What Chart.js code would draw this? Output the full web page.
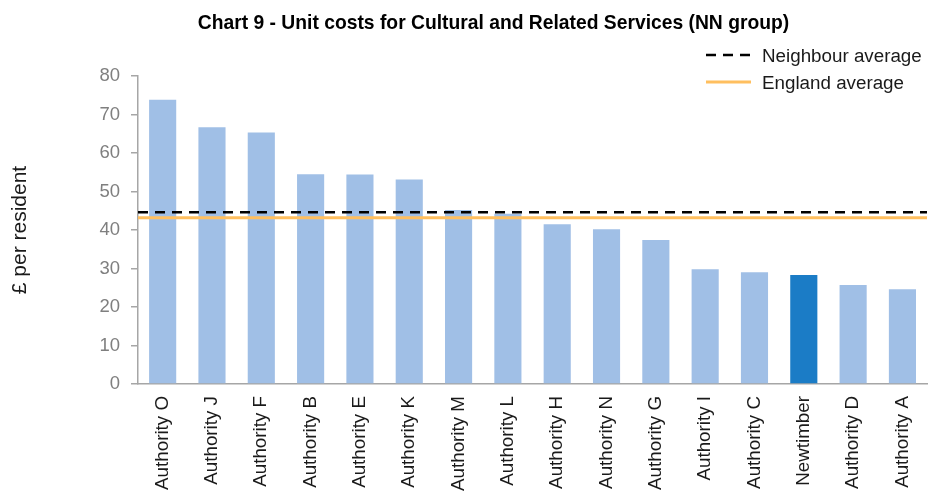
<!DOCTYPE html>
<html>
<head>
<meta charset="utf-8">
<script src="https://cdn.jsdelivr.net/npm/chart.js@4.4.1/dist/chart.umd.min.js"></script>
<style>
  html, body { margin: 0; padding: 0; background: #ffffff; overflow: hidden; }
  #wrap { width: 937px; height: 493px; position: relative; }
</style>
</head>
<body>
<div id="wrap"><canvas id="c" width="937" height="493"></canvas></div>
<script>
const chartTitle = "Chart 9 - Unit costs for Cultural and Related Services (NN group)";
const yAxisTitle = "£ per resident";
const categories = ["Authority O", "Authority J", "Authority F", "Authority B", "Authority E", "Authority K", "Authority M", "Authority L", "Authority H", "Authority N", "Authority G", "Authority I", "Authority C", "Newtimber", "Authority D", "Authority A"];
const unitCosts = [73.8, 66.7, 65.3, 54.5, 54.4, 53.1, 45.2, 44.2, 41.5, 40.2, 37.4, 29.8, 29.0, 28.3, 25.7, 24.6];
const highlightCategory = "Newtimber";
const neighbourAverage = 44.6;
const englandAverage = 43.2;
const yTicks = [0, 10, 20, 30, 40, 50, 60, 70, 80];
const legendLabels = ["Neighbour average", "England average"];

const barLight = "#A0BFE6";
const barDark = "#1B7CC6";
const orange = "#FFBF5F";

const barColors = categories.map(c => c === highlightCategory ? barDark : barLight);

const overlayPlugin = {
  id: "overlay",
  afterDraw(chart) {
    const ctx = chart.ctx;
    ctx.save();
    ctx.fillStyle = "#000000";
    ctx.font = "bold 19.3px 'Liberation Sans', Arial, sans-serif";
    ctx.textAlign = "center";
    ctx.textBaseline = "alphabetic";
    ctx.fillText(chartTitle, 493.5, 29);
    ctx.font = "18.8px 'Liberation Sans', Arial, sans-serif";
    ctx.textAlign = "left";
    ctx.fillStyle = "#1a1a1a";
    ctx.strokeStyle = "#000000";
    ctx.lineWidth = 2.5;
    ctx.setLineDash([10, 7]);
    ctx.beginPath(); ctx.moveTo(706, 55); ctx.lineTo(751, 55); ctx.stroke();
    ctx.setLineDash([]);
    ctx.fillText(legendLabels[0], 762, 62);
    ctx.strokeStyle = orange;
    ctx.lineWidth = 3;
    ctx.beginPath(); ctx.moveTo(706, 82); ctx.lineTo(751, 82); ctx.stroke();
    ctx.fillText(legendLabels[1], 762, 89);
    ctx.restore();
  }
};

new Chart(document.getElementById("c"), {
  type: "bar",
  data: {
    labels: categories,
    datasets: [
      {
        type: "bar",
        label: "Unit cost",
        data: unitCosts,
        backgroundColor: barColors,
        borderWidth: 0,
        barPercentage: 0.55,
        categoryPercentage: 1.0,
        grouped: false,
        xAxisID: "x",
        yAxisID: "y",
        order: 2
      },
      {
        type: "line",
        label: legendLabels[1],
        data: [{x: 0, y: englandAverage}, {x: 1, y: englandAverage}],
        borderColor: orange,
        borderWidth: 3,
        pointRadius: 0,
        fill: false,
        xAxisID: "x2",
        yAxisID: "y",
        order: 1
      },
      {
        type: "line",
        label: legendLabels[0],
        data: [{x: 0, y: neighbourAverage}, {x: 1, y: neighbourAverage}],
        borderColor: "#000000",
        borderWidth: 2.5,
        borderDash: [10, 7],
        pointRadius: 0,
        fill: false,
        xAxisID: "x2",
        yAxisID: "y",
        order: 0
      }
    ]
  },
  options: {
    responsive: false,
    animation: false,
    devicePixelRatio: 1,
    layout: { padding: { top: 76, right: 0, left: 0, bottom: 0 } },
    plugins: {
      legend: { display: false },
      title: { display: false },
      tooltip: { enabled: false }
    },
    scales: {
      x: {
        type: "category",
        offset: true,
        grid: { display: false, drawTicks: false },
        border: { display: true, color: "#A6A6A6", width: 1.5 },
        ticks: {
          autoSkip: false,
          minRotation: 90,
          maxRotation: 90,
          padding: 12,
          color: "#1a1a1a",
          font: { family: "'Liberation Sans', Arial, sans-serif", size: 18.8 }
        },
        afterFit(scale) { scale.height = 109; }
      },
      x2: {
        type: "linear",
        display: false,
        offset: false,
        grid: { offset: false },
        bounds: "data",
        min: 0,
        max: 1
      },
      y: {
        type: "linear",
        min: 0,
        max: 80,
        afterBuildTicks(scale) { scale.ticks = yTicks.map(v => ({ value: v })); },
        grid: { drawOnChartArea: false, drawTicks: true, tickLength: 7, color: "#A6A6A6", lineWidth: 1.5 },
        border: { display: true, color: "#A6A6A6", width: 1.5 },
        ticks: {
          padding: 11,
          color: "#7F7F7F",
          font: { family: "'Liberation Sans', Arial, sans-serif", size: 18.5 }
        },
        title: {
          display: true,
          text: yAxisTitle,
          color: "#1a1a1a",
          padding: { top: 8, bottom: 0 },
          font: { family: "'Liberation Sans', Arial, sans-serif", size: 21 }
        },
        afterFit(scale) { scale.width = 138; }
      }
    }
  },
  plugins: [overlayPlugin]
});
</script>
</body>
</html>
